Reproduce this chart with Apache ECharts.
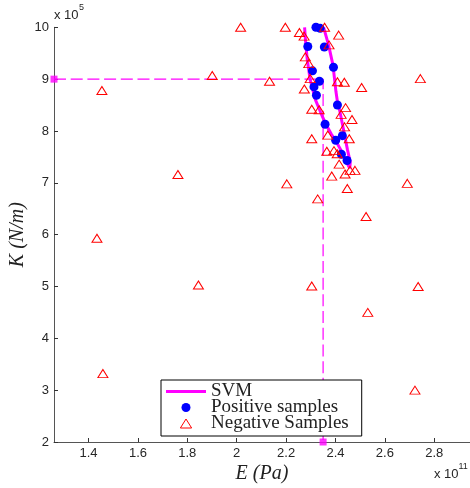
<!DOCTYPE html>
<html>
<head>
<meta charset="utf-8">
<script src="https://cdn.jsdelivr.net/npm/echarts@6/dist/echarts.min.js"></script>
<style>
  html, body { margin: 0; padding: 0; background: #ffffff; }
  #chart { width: 470px; height: 488px; }
</style>
</head>
<body>
<div id="chart"></div>
<script>
// Young's modulus E in units of 1e11 Pa, stiffness K in units of 1e5 N/m.

// SVM decision boundary, traced as one path: left edge downwards, right edge back up.
const svmE = [2.275, 2.280, 2.286, 2.298, 2.319, 2.339, 2.359, 2.383, 2.406, 2.428, 2.447, 2.458,
              2.460, 2.449, 2.433, 2.417, 2.410, 2.402, 2.390, 2.372, 2.352];
const svmK = [10.0, 9.66, 9.37, 8.98, 8.60, 8.37, 8.15, 7.94, 7.77, 7.58, 7.38, 7.28,
              7.40, 7.63, 8.02, 8.40, 8.50, 8.76, 9.27, 9.66, 10.0];

// Positive samples
const posE = [2.321, 2.338, 2.288, 2.355, 2.392, 2.307, 2.335, 2.313, 2.323, 2.408, 2.358, 2.428, 2.401, 2.424, 2.447];
const posK = [10.0, 9.98, 9.63, 9.62, 9.23, 9.16, 8.96, 8.85, 8.69, 8.50, 8.13, 7.91, 7.82, 7.55, 7.43];

// Negative samples
const negE = [1.454, 1.901, 1.762, 2.016, 1.434, 1.845, 1.458, 2.722, 2.328, 2.524, 2.304, 2.735, 2.531,
              2.197, 2.356, 2.254, 2.273, 2.413, 2.374, 2.278, 2.292, 2.133, 2.298, 2.408, 2.436, 2.506,
              2.744, 2.274, 2.304, 2.334, 2.441, 2.423, 2.467, 2.437, 2.304, 2.369, 2.456, 2.365, 2.394,
              2.407, 2.415, 2.439, 2.459, 2.479, 2.385, 2.448, 2.203, 2.691];
const negK = [8.78, 9.07, 7.16, 10.0, 5.93, 5.03, 3.32, 3.00, 6.69, 6.35, 5.01, 5.00, 4.50,
              10.0, 10.0, 9.90, 9.83, 9.85, 9.66, 9.43, 9.30, 8.96, 9.01, 8.95, 8.94, 8.84,
              9.01, 8.81, 8.42, 8.41, 8.45, 8.32, 8.22, 8.08, 7.85, 7.92, 7.85, 7.61, 7.62,
              7.56, 7.36, 7.17, 7.24, 7.24, 7.13, 6.89, 6.98, 6.99];

// Selected operating point
const selE = 2.35;
const selK = 9.0;

// Axis ranges and tick labels
const eMin = 1.26, eMax = 2.945;
const kMin = 2, kMax = 10;
const eTicks = [1.4, 1.6, 1.8, 2.0, 2.2, 2.4, 2.6, 2.8];

const pairs = (xs, ys) => xs.map((x, i) => [x, ys[i]]);

const tickFont = { fontFamily: 'Liberation Sans', fontSize: 13, color: '#262626' };
const axisGray = '#555555';
const magenta = '#ff00ff';

const chart = echarts.init(document.getElementById('chart'), null, { renderer: 'canvas' });

chart.setOption({
  animation: false,
  backgroundColor: '#ffffff',
  grid: { left: 54, right: 0, top: 27.3, bottom: 46, containLabel: false, outerBoundsMode: 'none' },
  xAxis: {
    type: 'value',
    min: eMin,
    max: eMax,
    name: 'E (Pa)',
    nameLocation: 'middle',
    nameGap: 22,
    nameMoveOverlap: false,
    nameTextStyle: { fontFamily: 'Liberation Serif', fontStyle: 'italic', fontSize: 20, color: '#222' },
    axisLine: { show: true, onZero: false, lineStyle: { color: axisGray, width: 1 } },
    axisTick: { show: true, inside: true, length: 4, customValues: eTicks, lineStyle: { color: '#333' } },
    axisLabel: Object.assign({ customValues: eTicks, margin: 5 }, tickFont),
    splitLine: { show: false }
  },
  yAxis: {
    type: 'value',
    min: kMin,
    max: kMax,
    interval: 1,
    name: 'K (N/m)',
    nameLocation: 'middle',
    nameGap: 26,
    nameMoveOverlap: false,
    nameTextStyle: { fontFamily: 'Liberation Serif', fontStyle: 'italic', fontSize: 20, color: '#222' },
    axisLine: { show: true, onZero: false, lineStyle: { color: axisGray, width: 1 } },
    axisTick: { show: true, inside: true, length: 4, lineStyle: { color: '#333' } },
    axisLabel: Object.assign({ margin: 5 }, tickFont),
    splitLine: { show: false }
  },
  legend: {
    orient: 'vertical',
    left: 161,
    top: 380,
    padding: [2, 13, 3, 5],
    itemGap: -3,
    itemWidth: 40,
    itemHeight: 9,
    symbolKeepAspect: true,
    backgroundColor: '#ffffff',
    borderColor: '#000000',
    borderWidth: 1,
    borderRadius: 0,
    data: [
      { name: 'SVM', icon: 'path://M0,0H40V3H0Z' },
      { name: 'Positive samples', icon: 'circle' },
      { name: 'Negative Samples', icon: 'path://M5,0L10,8L0,8Z', itemStyle: { borderWidth: 1 } }
    ],
    textStyle: { fontFamily: 'Liberation Serif', fontSize: 19, color: '#222' }
  },
  graphic: [
    { type: 'text', left: 54, top: 9, style: { text: 'x 10', fontFamily: 'Liberation Sans', fontSize: 13, fill: '#262626' } },
    { type: 'text', left: 79, top: 3, style: { text: '5', fontFamily: 'Liberation Sans', fontSize: 9, fill: '#262626' } },
    { type: 'text', left: 434, top: 468, style: { text: 'x 10', fontFamily: 'Liberation Sans', fontSize: 13, fill: '#262626' } },
    { type: 'text', left: 458.5, top: 462, style: { text: '11', fontFamily: 'Liberation Sans', fontSize: 9, fill: '#262626' } }
  ],
  series: [
    {
      name: 'guide',
      type: 'line',
      silent: true,
      symbol: 'none',
      clip: false,
      data: [[eMin, selK], [selE, selK], [selE, kMin]],
      lineStyle: { color: magenta, width: 1.2, type: [12, 4.7] },
      z: 1
    },
    {
      name: 'SVM',
      type: 'line',
      symbol: 'none',
      showSymbol: false,
      data: pairs(svmE, svmK),
      lineStyle: { color: magenta, width: 3 },
      itemStyle: { color: magenta },
      z: 2
    },
    {
      name: 'Positive samples',
      type: 'scatter',
      symbol: 'circle',
      symbolSize: 9,
      clip: false,
      data: pairs(posE, posK),
      itemStyle: { color: '#0000ff', opacity: 1 },
      z: 3
    },
    {
      name: 'Negative Samples',
      type: 'scatter',
      symbol: 'triangle',
      symbolSize: [10, 8],
      clip: false,
      data: pairs(negE, negK),
      itemStyle: { color: 'rgba(255,255,255,0)', borderColor: '#ff0000', borderWidth: 1, opacity: 1 },
      z: 4
    },
    {
      name: 'selected',
      type: 'scatter',
      symbol: 'rect',
      symbolSize: 7,
      clip: false,
      silent: true,
      data: [[eMin, selK], [selE, kMin]],
      itemStyle: { color: magenta },
      z: 5
    }
  ]
});
</script>
</body>
</html>
